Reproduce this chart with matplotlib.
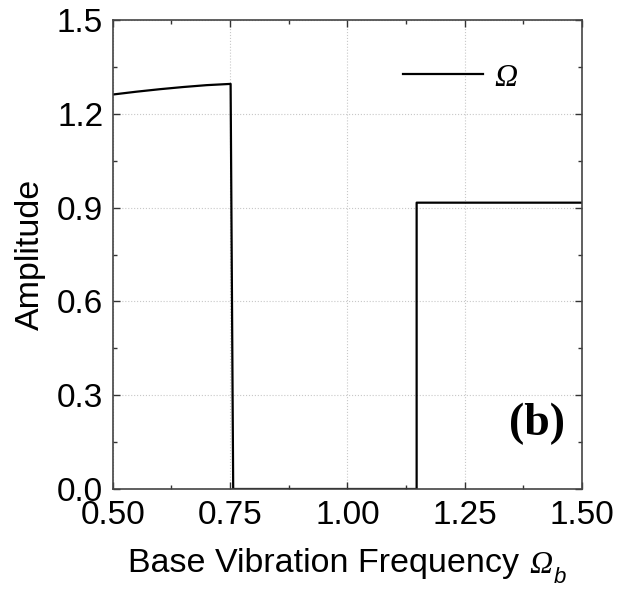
import matplotlib.pyplot as plt
from matplotlib.ticker import MultipleLocator

freq = [0.50, 0.55, 0.60, 0.65, 0.70, 0.751, 0.7565, 1.1475, 1.1475, 1.50]
amp = [1.262, 1.271, 1.279, 1.286, 1.292, 1.296, 0.0, 0.0, 0.916, 0.916]
xticks = [0.50, 0.75, 1.00, 1.25, 1.50]
yticks = [0.0, 0.3, 0.6, 0.9, 1.2, 1.5]

plt.rcParams['font.family'] = 'Liberation Sans'

W, H = 634, 592
fig = plt.figure(figsize=(W / 100, H / 100), dpi=100)
ax = fig.add_axes([0.178, 0.174, 0.740, 0.792])

ax.plot(freq, amp, color='black', lw=1.6, label='Ω')

ax.set_xlim(0.5, 1.5)
ax.set_ylim(0.0, 1.5)
ax.set_xticks(xticks)
ax.set_xticklabels(['%.2f' % t for t in xticks])
ax.set_yticks(yticks)
ax.set_yticklabels(['%.1f' % t for t in yticks])
ax.xaxis.set_minor_locator(MultipleLocator(0.125))
ax.yaxis.set_minor_locator(MultipleLocator(0.15))
ax.tick_params(which='both', direction='in', top=True, right=True,
               labelsize=24, width=1.0, color='#333333')
ax.tick_params(which='major', length=5)
ax.tick_params(axis='x', which='major', pad=8)
ax.tick_params(axis='y', which='major', pad=7)
ax.tick_params(which='minor', length=3)
ax.grid(True, which='major', ls=':', color='#c8c8c8', lw=0.8)
for s in ax.spines.values():
    s.set_color('#444444')
    s.set_linewidth(1.2)

ax.set_ylabel('Amplitude', fontsize=24.5, labelpad=8)
xl = ax.set_xlabel('Base Vibration Frequency', fontsize=24.5,
                   ha='left', va='baseline')
ax.xaxis.set_label_coords(0.033, -0.177)

# italic Omega and subscript b after the x label
fig.text(529 / W, 1 - 573 / H, 'Ω', fontsize=23, family='Liberation Serif',
         style='italic', ha='left', va='baseline')
fig.text(554 / W, 1 - 583 / H, 'b', fontsize=16, family='Liberation Sans',
         style='italic', ha='left', va='baseline')

leg = ax.legend(loc='upper right', bbox_to_anchor=(0.862, 0.908), frameon=False,
                borderpad=0, borderaxespad=0,
                handlelength=2.5, handletextpad=0.36,
                prop={'family': 'Liberation Serif', 'style': 'italic', 'size': 23})

ax.text(0.963, 0.138, '(b)', transform=ax.transAxes, ha='right', va='center',
        fontsize=33, fontweight='bold', family='Liberation Serif')

fig.savefig('out.png', dpi=100)
